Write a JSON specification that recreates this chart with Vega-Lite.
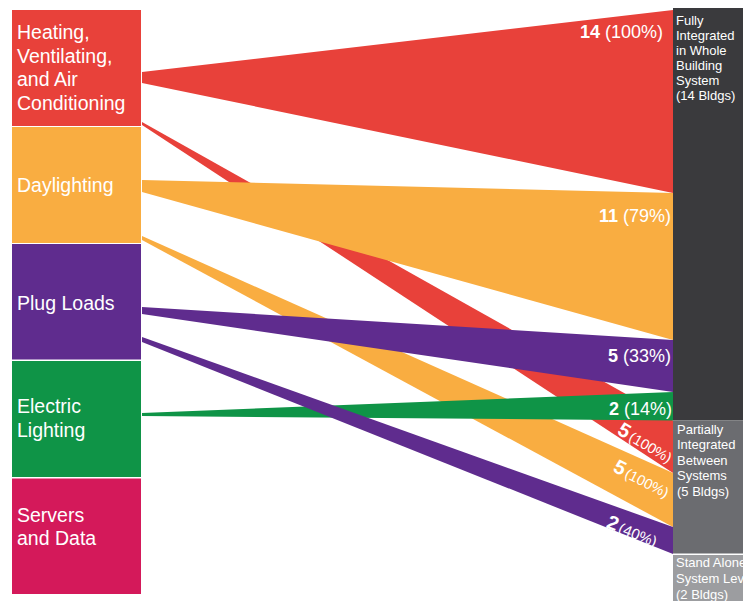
{
  "$schema": "https://vega.github.io/schema/vega-lite/v6.json",
  "width": 743,
  "height": 601,
  "autosize": {"type": "fit", "contains": "padding"},
  "padding": 0,
  "background": "white",
  "config": {"view": {"stroke": null}, "font": "Liberation Sans"},
  "datasets": {
    "nodes": [
      {"node": "HVAC", "x": 12, "x2": 141, "y": 10, "y2": 126},
      {"node": "Daylighting", "x": 12, "x2": 141, "y": 127, "y2": 243},
      {"node": "Plug Loads", "x": 12, "x2": 141, "y": 244, "y2": 359.5},
      {"node": "Electric Lighting", "x": 12, "x2": 141, "y": 361, "y2": 477},
      {"node": "Servers and Data", "x": 12, "x2": 141, "y": 478.5, "y2": 594},
      {"node": "Fully Integrated", "x": 673, "x2": 743, "y": 8, "y2": 420.5},
      {"node": "Partially Integrated", "x": 673, "x2": 743, "y": 420.5, "y2": 553.5},
      {"node": "Stand Alone", "x": 673, "x2": 743, "y": 555, "y2": 601}
    ],
    "flows": [
      {"flow": "f1", "source": "HVAC", "x": 142, "y": 122, "y2": 125},
      {"flow": "f1", "source": "HVAC", "x": 673, "y": 420.5, "y2": 473},
      {"flow": "f2", "source": "HVAC", "x": 142, "y": 72, "y2": 83},
      {"flow": "f2", "source": "HVAC", "x": 673, "y": 10, "y2": 193},
      {"flow": "f3", "source": "Daylighting", "x": 142, "y": 180, "y2": 192},
      {"flow": "f3", "source": "Daylighting", "x": 673, "y": 193, "y2": 340},
      {"flow": "f4", "source": "Daylighting", "x": 142, "y": 236, "y2": 240},
      {"flow": "f4", "source": "Daylighting", "x": 673, "y": 473, "y2": 527},
      {"flow": "f5", "source": "Plug Loads", "x": 142, "y": 307, "y2": 314},
      {"flow": "f5", "source": "Plug Loads", "x": 673, "y": 340, "y2": 392},
      {"flow": "f6", "source": "Electric Lighting", "x": 142, "y": 413, "y2": 416},
      {"flow": "f6", "source": "Electric Lighting", "x": 673, "y": 392, "y2": 420.5},
      {"flow": "f7", "source": "Plug Loads", "x": 142, "y": 337, "y2": 342},
      {"flow": "f7", "source": "Plug Loads", "x": 673, "y": 527, "y2": 554}
    ],
    "nodeLabels": [
      {"side": "left", "t": "Heating,", "x": 17, "y": 39},
      {"side": "left", "t": "Ventilating,", "x": 17, "y": 63},
      {"side": "left", "t": "and Air", "x": 17, "y": 86},
      {"side": "left", "t": "Conditioning", "x": 17, "y": 110},
      {"side": "left", "t": "Daylighting", "x": 17, "y": 192},
      {"side": "left", "t": "Plug Loads", "x": 17, "y": 310},
      {"side": "left", "t": "Electric", "x": 17, "y": 413},
      {"side": "left", "t": "Lighting", "x": 17, "y": 437},
      {"side": "left", "t": "Servers", "x": 17, "y": 522},
      {"side": "left", "t": "and Data", "x": 17, "y": 545},
      {"side": "right", "t": "Fully", "x": 676, "y": 25},
      {"side": "right", "t": "Integrated", "x": 676, "y": 40},
      {"side": "right", "t": "in Whole", "x": 676, "y": 55},
      {"side": "right", "t": "Building", "x": 676, "y": 70},
      {"side": "right", "t": "System", "x": 676, "y": 85},
      {"side": "right", "t": "(14 Bldgs)", "x": 676, "y": 100},
      {"side": "right", "t": "Partially", "x": 677, "y": 434},
      {"side": "right", "t": "Integrated", "x": 677, "y": 449},
      {"side": "right", "t": "Between", "x": 677, "y": 465},
      {"side": "right", "t": "Systems", "x": 677, "y": 480},
      {"side": "right", "t": "(5 Bldgs)", "x": 677, "y": 496},
      {"side": "right", "t": "Stand Alone at", "x": 676, "y": 567},
      {"side": "right", "t": "System Level", "x": 676, "y": 583},
      {"side": "right", "t": "(2 Bldgs)", "x": 676, "y": 599}
    ],
    "flowLabels": [
      {"id": "h", "num": "14", "pct": "(100%)", "x": 600, "y": 38},
      {"id": "h", "num": "11", "pct": "(79%)", "x": 618, "y": 222},
      {"id": "h", "num": "5", "pct": "(33%)", "x": 618, "y": 362},
      {"id": "h", "num": "2", "pct": "(14%)", "x": 619, "y": 415},
      {"id": "r1", "num": "5", "pct": "(100%)", "x": 626, "y": 439},
      {"id": "r2", "num": "5", "pct": "(100%)", "x": 622, "y": 476},
      {"id": "r3", "num": "2", "pct": "(40%)", "x": 615.5, "y": 531.5}
    ]
  },
  "layer": [
    {
      "data": {"name": "nodes"},
      "mark": {"type": "rect"},
      "encoding": {
        "x": {"field": "x", "type": "quantitative", "axis": null, "scale": {"domain": [0, 743], "nice": false, "zero": false}},
        "x2": {"field": "x2"},
        "y": {"field": "y", "type": "quantitative", "axis": null, "scale": {"domain": [0, 601], "reverse": true, "nice": false, "zero": false}},
        "y2": {"field": "y2"},
        "color": {
          "field": "node", "type": "nominal", "legend": null,
          "scale": {
            "domain": ["HVAC", "Daylighting", "Plug Loads", "Electric Lighting", "Servers and Data", "Fully Integrated", "Partially Integrated", "Stand Alone"],
            "range": ["#E8413A", "#F9AD41", "#5F2C8E", "#0F9447", "#D4195A", "#3A3A3D", "#6B6C70", "#9C9DA0"]
          }
        }
      }
    },
    {
      "data": {"name": "flows"},
      "mark": {"type": "area", "opacity": 1, "interpolate": "linear"},
      "encoding": {
        "x": {"field": "x", "type": "quantitative"},
        "y": {"field": "y", "type": "quantitative", "stack": null},
        "y2": {"field": "y2"},
        "detail": {"field": "flow", "type": "nominal"},
        "color": {"field": "source", "type": "nominal", "legend": null}
      }
    },
    {
      "data": {"name": "nodeLabels"},
      "transform": [{"filter": "datum.side === 'left'"}],
      "mark": {"type": "text", "align": "left", "baseline": "alphabetic", "fontSize": 19.5, "color": "white"},
      "encoding": {
        "x": {"field": "x", "type": "quantitative"},
        "y": {"field": "y", "type": "quantitative"},
        "text": {"field": "t"}
      }
    },
    {
      "data": {"name": "nodeLabels"},
      "transform": [{"filter": "datum.side === 'right'"}],
      "mark": {"type": "text", "align": "left", "baseline": "alphabetic", "fontSize": 13, "color": "white", "clip": true},
      "encoding": {
        "x": {"field": "x", "type": "quantitative"},
        "y": {"field": "y", "type": "quantitative"},
        "text": {"field": "t"}
      }
    },
    {
      "data": {"name": "flowLabels"},
      "transform": [{"filter": "datum.id === 'h'"}],
      "mark": {"type": "text", "align": "right", "baseline": "alphabetic", "fontSize": 18, "fontWeight": "bold", "color": "white"},
      "encoding": {
        "x": {"field": "x", "type": "quantitative"},
        "y": {"field": "y", "type": "quantitative"},
        "text": {"field": "num"}
      }
    },
    {
      "data": {"name": "flowLabels"},
      "transform": [{"filter": "datum.id === 'h'"}],
      "mark": {"type": "text", "align": "left", "baseline": "alphabetic", "fontSize": 18, "dx": 5, "color": "white"},
      "encoding": {
        "x": {"field": "x", "type": "quantitative"},
        "y": {"field": "y", "type": "quantitative"},
        "text": {"field": "pct"}
      }
    },
    {
      "data": {"name": "flowLabels"},
      "transform": [{"filter": "datum.id === 'r1'"}],
      "mark": {"type": "text", "align": "right", "baseline": "alphabetic", "fontSize": 20, "fontWeight": "bold", "angle": 30, "color": "white"},
      "encoding": {
        "x": {"field": "x", "type": "quantitative"},
        "y": {"field": "y", "type": "quantitative"},
        "text": {"field": "num"}
      }
    },
    {
      "data": {"name": "flowLabels"},
      "transform": [{"filter": "datum.id === 'r1'"}],
      "mark": {"type": "text", "align": "left", "baseline": "alphabetic", "fontSize": 14.5, "dx": 2, "angle": 30, "color": "white"},
      "encoding": {
        "x": {"field": "x", "type": "quantitative"},
        "y": {"field": "y", "type": "quantitative"},
        "text": {"field": "pct"}
      }
    },
    {
      "data": {"name": "flowLabels"},
      "transform": [{"filter": "datum.id === 'r2'"}],
      "mark": {"type": "text", "align": "right", "baseline": "alphabetic", "fontSize": 20, "fontWeight": "bold", "angle": 27, "color": "white"},
      "encoding": {
        "x": {"field": "x", "type": "quantitative"},
        "y": {"field": "y", "type": "quantitative"},
        "text": {"field": "num"}
      }
    },
    {
      "data": {"name": "flowLabels"},
      "transform": [{"filter": "datum.id === 'r2'"}],
      "mark": {"type": "text", "align": "left", "baseline": "alphabetic", "fontSize": 14.5, "dx": 2, "angle": 27, "color": "white"},
      "encoding": {
        "x": {"field": "x", "type": "quantitative"},
        "y": {"field": "y", "type": "quantitative"},
        "text": {"field": "pct"}
      }
    },
    {
      "data": {"name": "flowLabels"},
      "transform": [{"filter": "datum.id === 'r3'"}],
      "mark": {"type": "text", "align": "right", "baseline": "alphabetic", "fontSize": 20, "fontWeight": "bold", "angle": 22, "color": "white"},
      "encoding": {
        "x": {"field": "x", "type": "quantitative"},
        "y": {"field": "y", "type": "quantitative"},
        "text": {"field": "num"}
      }
    },
    {
      "data": {"name": "flowLabels"},
      "transform": [{"filter": "datum.id === 'r3'"}],
      "mark": {"type": "text", "align": "left", "baseline": "alphabetic", "fontSize": 15, "dx": 2, "angle": 22, "color": "white"},
      "encoding": {
        "x": {"field": "x", "type": "quantitative"},
        "y": {"field": "y", "type": "quantitative"},
        "text": {"field": "pct"}
      }
    }
  ]
}
